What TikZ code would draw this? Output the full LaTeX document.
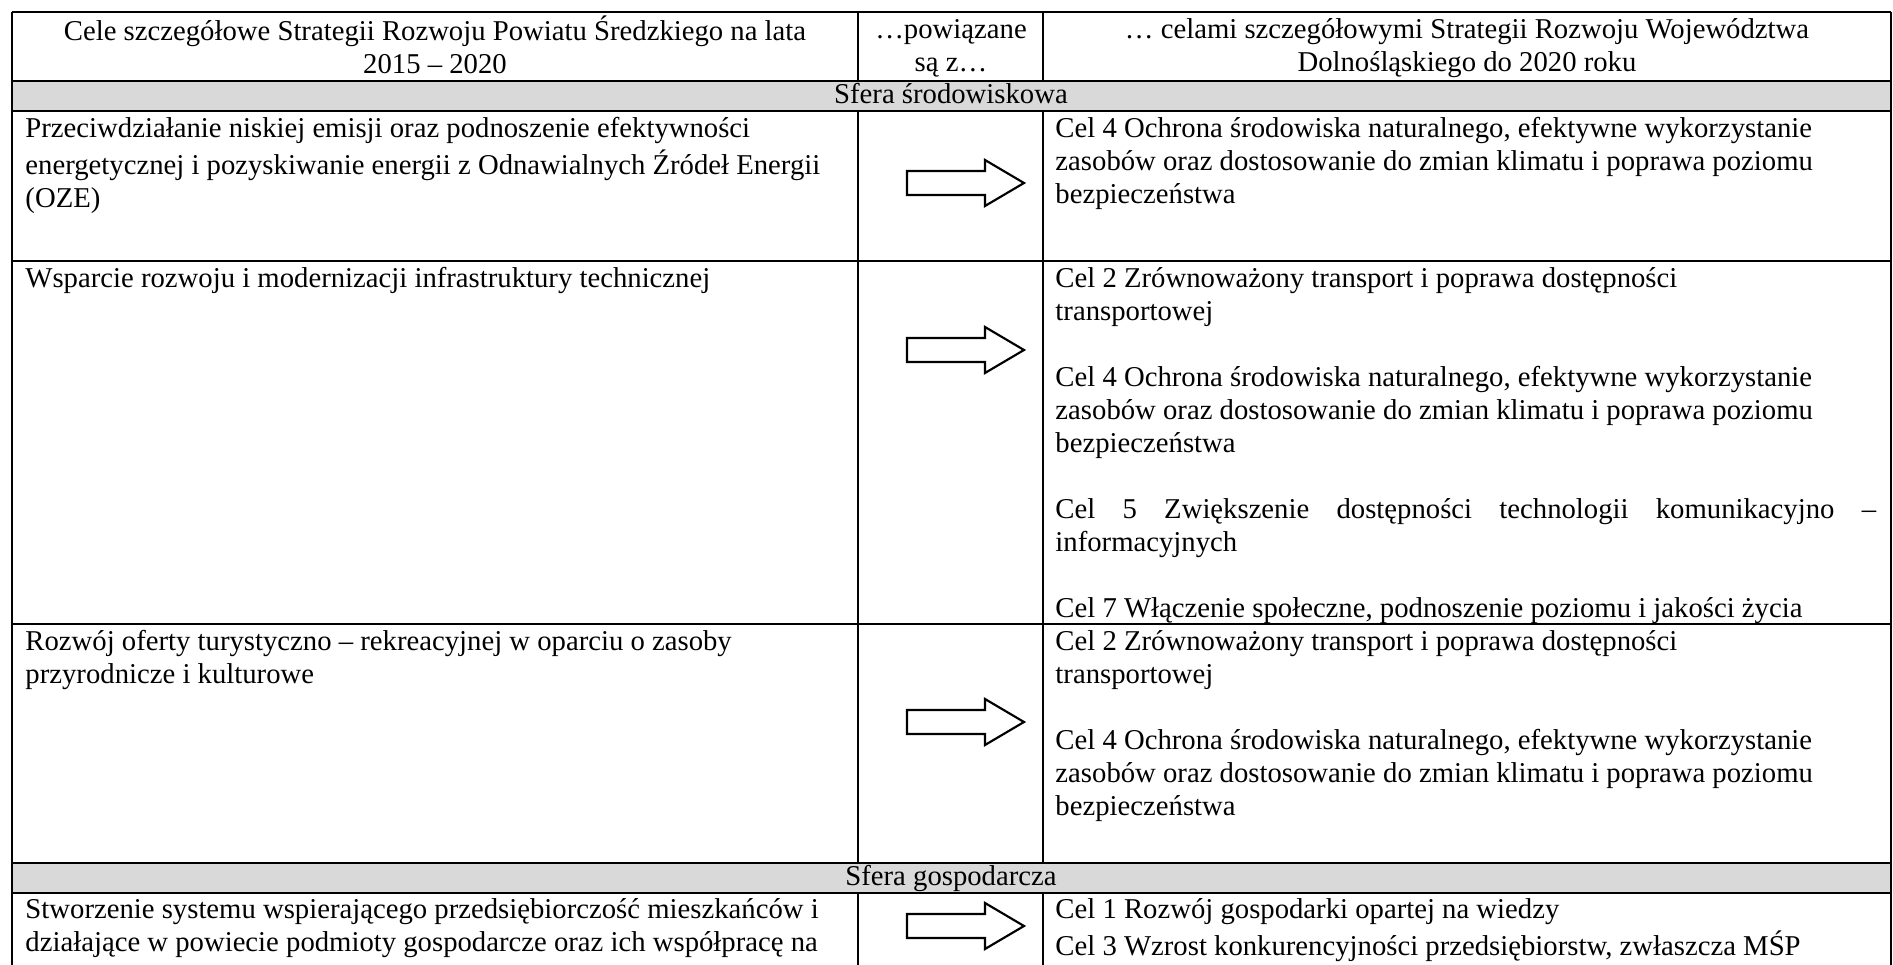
\documentclass[tikz,border=0pt]{standalone}
\usepackage{fontspec}
\setmainfont{Liberation Serif}

\begin{document}
\begin{tikzpicture}[x=0.418pt,y=-0.418pt]
	\tikzstyle{txt}=[anchor=north west, inner sep=0pt, align=left, font=\fontsize{12}{13.8}\selectfont]
	\tikzstyle{hdr}=[anchor=north, inner sep=0pt, align=center, font=\fontsize{12}{13.8}\selectfont]
	\tikzstyle{sfera}=[fill=black!15]
	\tikzstyle{linia}=[line width=1.1pt]
	\tikzstyle{strz}=[line width=0.9pt, line join=miter]

	\useasboundingbox (0,0) rectangle (1893,965);

	% szare wiersze
	\fill[sfera] (12,81) rectangle (1891,111);
	\fill[sfera] (12,863) rectangle (1891,893);

	% siatka tabeli
	\foreach \y in {12,81,111,261,624,863,893}
		\draw[linia] (12,\y) -- (1891,\y);
	\foreach \x in {12,1891}
		\draw[linia] (\x,12) -- (\x,965);
	\foreach \x in {858,1043} {
		\draw[linia] (\x,12) -- (\x,81);
		\draw[linia] (\x,111) -- (\x,863);
		\draw[linia] (\x,893) -- (\x,965);
	}

	% naglowek
	\node[hdr] (h1) at (435,15) {\strut Cele szczegółowe Strategii Rozwoju Powiatu Średzkiego na lata\\2015 – 2020};
	\node[hdr] (h2) at (951,15) {\strut …powiązane\\są z…};
	\node[hdr] (h3) at (1467,15) {\strut … celami szczegółowymi Strategii Rozwoju Województwa\\Dolnośląskiego do 2020 roku};

	\node[hdr] (s1) at (951,80) {\strut Sfera środowiskowa};
	\node[hdr] (s2) at (951,862) {\strut Sfera gospodarcza};

	% cele powiatu
	\node[txt] (p1) at (25,114) {\strut Przeciwdziałanie niskiej emisji oraz podnoszenie efektywności\\energetycznej i pozyskiwanie energii z Odnawialnych Źródeł Energii\\(OZE)};
	\node[txt] (p2) at (25,264) {\strut Wsparcie rozwoju i modernizacji infrastruktury technicznej};
	\node[txt] (p3) at (25,627) {\strut Rozwój oferty turystyczno – rekreacyjnej w oparciu o zasoby\\przyrodnicze i kulturowe};
	\node[txt] (p4) at (25,895) {\strut Stworzenie systemu wspierającego przedsiębiorczość mieszkańców i\\działające w powiecie podmioty gospodarcze oraz ich współpracę na};

	% cele wojewodztwa
	\node[txt] (w1) at (1055,114) {\strut Cel 4 Ochrona środowiska naturalnego, efektywne wykorzystanie\\zasobów oraz dostosowanie do zmian klimatu i poprawa poziomu\\bezpieczeństwa};
	\node[txt] (w2) at (1055,264) {\strut Cel 2 Zrównoważony transport i poprawa dostępności\\transportowej\\ \strut \\Cel 4 Ochrona środowiska naturalnego, efektywne wykorzystanie\\zasobów oraz dostosowanie do zmian klimatu i poprawa poziomu\\bezpieczeństwa\\ \strut \\\makebox[343pt][s]{Cel 5 Zwiększenie dostępności technologii komunikacyjno –}\\informacyjnych\\ \strut \\Cel 7 Włączenie społeczne, podnoszenie poziomu i jakości życia};
	\node[txt] (w3) at (1055,627) {\strut Cel 2 Zrównoważony transport i poprawa dostępności\\transportowej\\ \strut \\Cel 4 Ochrona środowiska naturalnego, efektywne wykorzystanie\\zasobów oraz dostosowanie do zmian klimatu i poprawa poziomu\\bezpieczeństwa};
	\node[txt] (w4) at (1055,895) {\strut Cel 1 Rozwój gospodarki opartej na wiedzy\\Cel 3 Wzrost konkurencyjności przedsiębiorstw, zwłaszcza MŚP};

	% strzalki
	\foreach \y in {183,350,722,926}
		\draw[strz] (907,\y-12) -- (985,\y-12) -- (985,\y-23) -- (1024,\y) -- (985,\y+23) -- (985,\y+12) -- (907,\y+12) -- cycle;
\end{tikzpicture}
\end{document}
